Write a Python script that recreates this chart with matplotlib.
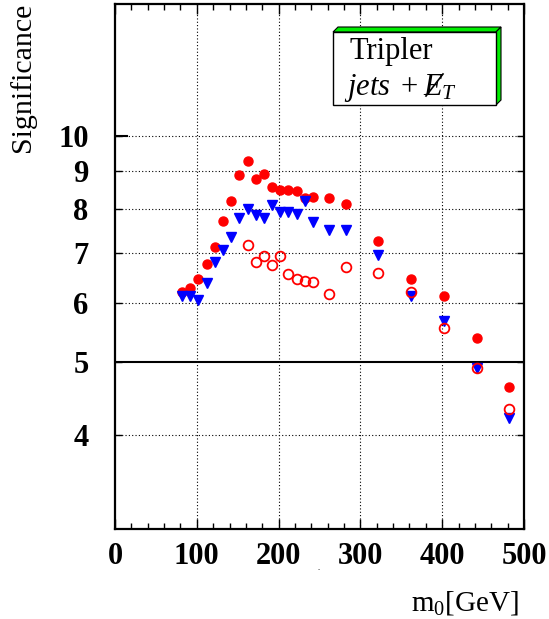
import matplotlib
matplotlib.use("Agg")
import matplotlib.pyplot as plt
from matplotlib.ticker import FixedLocator, NullLocator, MultipleLocator, FixedFormatter
from matplotlib.patches import Polygon
from matplotlib.lines import Line2D

plt.rcParams['font.family'] = ['Liberation Serif', 'DejaVu Serif']
plt.rcParams['mathtext.fontset'] = 'custom'
plt.rcParams['mathtext.rm'] = 'Liberation Serif'
plt.rcParams['mathtext.it'] = 'Liberation Serif:italic'

# data
m0_full = [82, 92, 102, 112, 122, 132, 142, 152, 162, 172, 182, 192, 202, 212, 222,
           232, 242, 262, 282, 322, 362, 402, 442, 482]
sig_filled = [6.20, 6.28, 6.45, 6.76, 7.12, 7.72, 8.19, 8.87, 9.26, 8.77, 8.92, 8.56,
              8.49, 8.49, 8.45, 8.28, 8.30, 8.27, 8.12, 7.26, 6.46, 6.12, 5.38, 4.63]
sig_triangle = [6.12, 6.13, 6.05, 6.37, 6.81, 7.05, 7.34, 7.78, 8.01, 7.86, 7.78, 8.11,
                7.94, 7.93, 7.88, 8.19, 7.68, 7.50, 7.50, 6.94, 6.12, 5.67, 4.92, 4.21]
m0_open = [162, 172, 182, 192, 202, 212, 222, 232, 242, 262, 282, 322, 362, 402, 442, 482]
sig_open = [7.17, 6.80, 6.92, 6.73, 6.92, 6.55, 6.46, 6.41, 6.39, 6.16, 6.70, 6.57,
            6.20, 5.55, 4.92, 4.33]

y_ticks = [4, 5, 6, 7, 8, 9, 10]
x_ticks = [0, 100, 200, 300, 400, 500]

W, H = 549, 619
fig = plt.figure(figsize=(W / 100, H / 100), dpi=100)
ax = fig.add_axes([115 / W, 1 - 529 / H, (524 - 115) / W, (529 - 4) / H])
ax.set_yscale('log')
ax.set_xlim(0, 500)
ax.set_ylim(3, 15)

red = '#ff0000'
blue = '#0000ff'
ax.plot(m0_full, sig_filled, 'o', color=red, ms=6.5, mec=red, zorder=3)
ax.plot(m0_full, sig_triangle, 'v', color=blue, ms=6.5, mec=blue, zorder=4)
ax.plot(m0_open, sig_open, 'o', mfc='none', mec=red, mew=1.3, ms=7, zorder=5)

# ticks
ax.yaxis.set_major_locator(FixedLocator(y_ticks))
ax.yaxis.set_major_formatter(FixedFormatter([str(t) for t in y_ticks]))
ax.yaxis.set_minor_locator(NullLocator())
ax.xaxis.set_major_locator(FixedLocator(x_ticks))
ax.xaxis.set_minor_locator(MultipleLocator(20))
ax.tick_params(axis='both', which='major', direction='in', length=5, width=1.0,
               top=True, right=True, labelsize=22)
ax.tick_params(axis='y', which='major', pad=19)
ax.tick_params(axis='x', which='minor', direction='in', length=4, width=1.0,
               top=True, bottom=True)
ax.tick_params(axis='x', which='major', length=7, pad=9)
for lab in ax.get_xticklabels() + ax.get_yticklabels():
    lab.set_fontweight('bold')

# grid
for x in [100, 200, 300, 400]:
    ax.axvline(x, color='black', lw=0.8, ls=(0, (1, 2)), zorder=1)
for y in [4, 6, 7, 8, 9, 10]:
    ax.axhline(y, color='black', lw=0.8, ls=(0, (1, 2)), zorder=1)
ax.axhline(5, color='black', lw=1.5, zorder=2)
ax.plot([0, 15], [10, 10], color='black', lw=1.5, zorder=2)

for s in ax.spines.values():
    s.set_linewidth(1.6)

# labels
fig.text(23 / W, 1 - 77 / H, 'Significance', rotation=90, ha='center', va='center',
         fontsize=21.5)
fig.text(519 / W, 1 - 603 / H, r'm$_0$[GeV]', ha='right', va='center', fontsize=21)
fig.text(319 / W, 1 - 568 / H, '.', ha='center', va='center', fontsize=6)

# 3D box legend
def px(x, y):
    return (x / W, 1 - y / H)

green = '#00ee00'
d = 5
x0, x1, y0, y1 = 333, 496, 32, 105
top = Polygon([px(x0, y0), px(x0 + d, y0 - d), px(x1 + d, y0 - d), px(x1, y0)],
              closed=True, transform=fig.transFigure, facecolor=green,
              edgecolor='black', lw=0.8, zorder=10)
side = Polygon([px(x1, y0), px(x1 + d, y0 - d), px(x1 + d, y1 - d), px(x1, y1)],
               closed=True, transform=fig.transFigure, facecolor=green,
               edgecolor='black', lw=0.8, zorder=10)
front = Polygon([px(x0, y0), px(x1, y0), px(x1, y1), px(x0, y1)], closed=True,
                transform=fig.transFigure, facecolor='white', edgecolor='black',
                lw=1.0, zorder=10)
for p in (top, side, front):
    fig.add_artist(p)

base = 95
fig.text(349 / W, 1 - 59 / H, 'Tripler', fontsize=22, ha='left', va='baseline', zorder=11)
fig.text(344 / W, 1 - base / H, r'$jets$', fontsize=22, ha='left', va='baseline', zorder=11)
fig.text(401 / W, 1 - base / H, '+', fontsize=22, ha='left', va='baseline', zorder=11)
fig.text(423 / W, 1 - base / H, r'$E_T$', fontsize=22, ha='left', va='baseline', zorder=11)
sx, sy = zip(px(426, base + 1), px(443, base - 21))
fig.add_artist(Line2D(sx, sy, transform=fig.transFigure, color='black', lw=1.2,
                      zorder=12))

fig.savefig('out.png', dpi=100)
